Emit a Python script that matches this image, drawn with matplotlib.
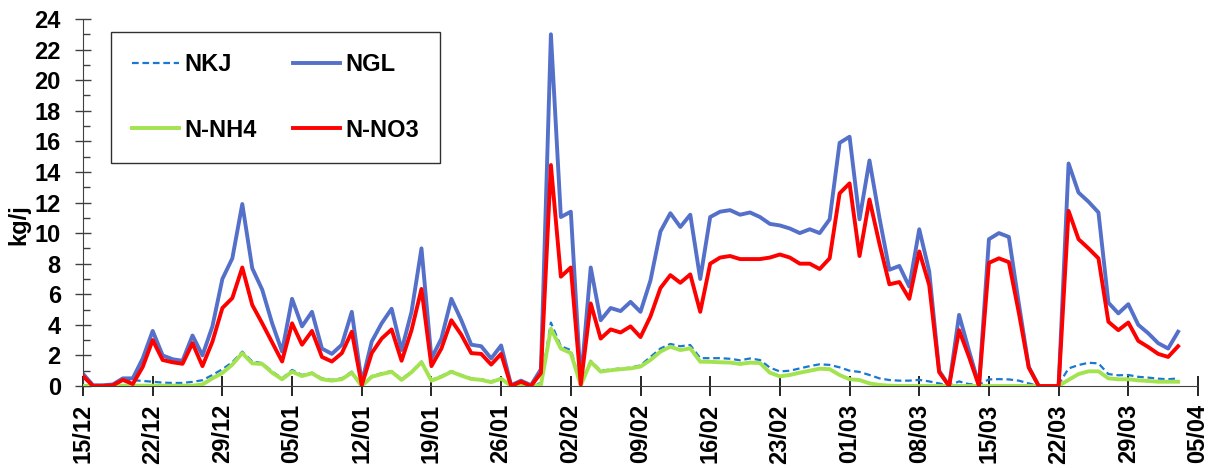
import matplotlib
matplotlib.use("Agg")
import matplotlib.pyplot as plt
from matplotlib.ticker import MultipleLocator, FixedLocator

# Daily values, 15/12 (day 0) to 03/04 (day 110)
ngl = [0.8, 0.05, 0.05, 0.1, 0.5, 0.5, 1.8, 3.6, 2.0, 1.75,
       1.65, 3.3, 2.0, 3.9, 7.0, 8.35, 11.9, 7.7, 6.3, 4.1,
       2.25, 5.7, 3.9, 4.85, 2.45, 2.1, 2.7, 4.85, 0.2, 2.9,
       4.1, 5.05, 2.35, 4.85, 9.0, 1.8, 3.1, 5.7, 4.3, 2.7,
       2.6, 1.8, 2.65, 0.05, 0.35, 0.05, 1.1, 23.0, 11.05, 11.4,
       0.2, 7.75, 4.3, 5.1, 4.9, 5.5, 4.85, 6.9, 10.1, 11.3,
       10.4, 11.2, 7.0, 11.05, 11.4, 11.5, 11.2, 11.35, 11.05, 10.6,
       10.5, 10.3, 10.0, 10.25, 10.0, 10.9, 15.9, 16.3, 10.9, 14.75,
       11.0, 7.6, 7.85, 6.5, 10.25, 7.5, 1.0, 0.0, 4.65, 2.3,
       0.05, 9.6, 10.0, 9.75, 5.4, 1.25, 0.0, 0.0, 0.0, 14.55,
       12.65, 12.05, 11.35, 5.45, 4.75, 5.35, 4.0, 3.45, 2.8, 2.45,
       3.55]

no3 = [0.65, 0.0, 0.0, 0.05, 0.4, 0.13, 1.25, 3.0, 1.7, 1.55,
       1.45, 2.8, 1.3, 2.9, 5.1, 5.75, 7.75, 5.3, 4.1, 2.85,
       1.6, 4.1, 2.7, 3.6, 1.9, 1.6, 2.15, 3.55, 0.05, 2.15,
       3.1, 3.7, 1.65, 3.65, 6.35, 1.3, 2.45, 4.3, 3.35, 2.15,
       2.1, 1.4, 2.1, 0.0, 0.28, 0.0, 0.85, 14.45, 7.15, 7.75,
       0.1, 5.4, 3.1, 3.7, 3.5, 3.9, 3.2, 4.55, 6.4, 7.25,
       6.75, 7.3, 4.85, 8.0, 8.4, 8.5, 8.3, 8.3, 8.3, 8.4,
       8.6, 8.4, 8.0, 8.0, 7.65, 8.35, 12.6, 13.25, 8.5, 12.2,
       9.3, 6.65, 6.8, 5.7, 8.8, 6.6, 0.9, 0.0, 3.65, 1.9,
       0.0, 8.05, 8.35, 8.1, 4.8, 1.2, 0.0, 0.0, 0.0, 11.45,
       9.6, 9.0, 8.35, 4.2, 3.65, 4.15, 2.95, 2.55, 2.1, 1.9,
       2.6]

nkj = [0.05, 0.0, 0.0, 0.02, 0.35, 0.38, 0.33, 0.28, 0.22, 0.2,
       0.2, 0.27, 0.38, 0.72, 1.1, 1.55, 2.25, 1.6, 1.5, 0.95,
       0.5, 1.05, 0.72, 0.87, 0.5, 0.4, 0.5, 0.94, 0.02, 0.65,
       0.83, 0.98, 0.45, 0.94, 1.6, 0.4, 0.65, 0.98, 0.72, 0.5,
       0.44, 0.3, 0.5, 0.0, 0.05, 0.0, 0.2, 4.15, 2.6, 2.35,
       0.15, 1.65, 1.0, 1.08, 1.15, 1.2, 1.35, 1.9, 2.45, 2.75,
       2.6, 2.68, 1.82, 1.82, 1.82, 1.78, 1.68, 1.8, 1.7, 1.2,
       0.95, 1.0, 1.15, 1.3, 1.42, 1.38, 1.22, 1.0, 0.92, 0.72,
       0.5, 0.39, 0.35, 0.35, 0.4, 0.3, 0.17, 0.02, 0.3, 0.12,
       0.1, 0.43, 0.45, 0.43, 0.35, 0.17, 0.0, 0.0, 0.1, 1.15,
       1.37, 1.52, 1.48, 0.78, 0.7, 0.72, 0.6, 0.55, 0.48, 0.44,
       0.5]

nh4 = [0.0, 0.0, 0.0, 0.0, 0.02, 0.02, 0.02, 0.02, 0.02, 0.02,
       0.02, 0.02, 0.1, 0.5, 0.85, 1.4, 2.15, 1.48, 1.44, 0.87,
       0.44, 0.94, 0.65, 0.83, 0.44, 0.35, 0.44, 0.87, 0.0, 0.6,
       0.78, 0.93, 0.4, 0.9, 1.55, 0.35, 0.6, 0.93, 0.68, 0.46,
       0.4, 0.25, 0.48, 0.0, 0.03, 0.0, 0.07, 3.75, 2.45, 2.15,
       0.05, 1.58, 0.94, 1.03, 1.1, 1.15, 1.27, 1.7, 2.25, 2.57,
       2.35, 2.46, 1.59, 1.58, 1.55, 1.53, 1.44, 1.53, 1.5, 0.87,
       0.63, 0.72, 0.87, 1.0, 1.13, 1.1, 0.72, 0.44, 0.39, 0.17,
       0.07, 0.02, 0.0, 0.0, 0.0, 0.0, 0.0, 0.0, 0.0, 0.0,
       0.0, 0.0, 0.0, 0.0, 0.0, 0.0, 0.0, 0.0, 0.0, 0.4,
       0.78, 0.96, 0.96, 0.5, 0.44, 0.44, 0.37, 0.33, 0.28, 0.28,
       0.28]

tick_labels = ["15/12", "22/12", "29/12", "05/01", "12/01", "19/01", "26/01",
               "02/02", "09/02", "16/02", "23/02", "01/03", "08/03", "15/03",
               "22/03", "29/03", "05/04"]

days = list(range(len(ngl)))
tick_pos = [7 * i for i in range(len(tick_labels))]

plt.rcParams['font.family'] = ['Liberation Sans', 'DejaVu Sans']
plt.rcParams['font.weight'] = 'bold'

fig = plt.figure(figsize=(12.15, 4.68), dpi=100)
ax = fig.add_axes([83 / 1215, (468 - 386) / 468, (1198 - 83) / 1215, (386 - 19) / 468])

ax.plot(days, nkj, color='#1A78D2', lw=1.6, dashes=(3, 1.7), label='NKJ', zorder=3)
ax.plot(days, ngl, color='#5470C9', lw=2.8, label='NGL', zorder=2)
ax.plot(days, nh4, color='#A3E350', lw=2.8, label='N-NH4', zorder=4)
ax.plot(days, no3, color='#FF0000', lw=2.8, label='N-NO3', zorder=5)

ax.set_xlim(0, 112)
ax.set_ylim(0, 24)
ax.xaxis.set_major_locator(FixedLocator(tick_pos))
ax.set_xticklabels(tick_labels, rotation=90, fontsize=17, fontweight='bold')
ax.yaxis.set_major_locator(MultipleLocator(2))
ax.yaxis.set_minor_locator(MultipleLocator(1))
for lab in ax.get_yticklabels():
    lab.set_fontsize(17)
    lab.set_fontweight('bold')

ax.spines['top'].set_visible(False)
ax.spines['right'].set_visible(False)
ax.spines['left'].set_color('#404040')
ax.spines['bottom'].set_color('#404040')
ax.tick_params(axis='x', which='major', direction='inout', length=14, width=1.2,
               color='black', pad=6)
ax.tick_params(axis='y', which='major', direction='inout', length=12, width=1.0,
               color='#404040', pad=10)
ax.tick_params(axis='y', which='minor', direction='in', length=5, width=1.0,
               color='#404040')

ax.set_ylabel('kg/j', fontsize=17, fontweight='bold')
ax.yaxis.set_label_coords(-0.047, 0.44)

handles, labels = ax.get_legend_handles_labels()
order = [0, 2, 1, 3]
leg = ax.legend([handles[i] for i in order], [labels[i] for i in order],
                ncol=2, loc='upper left', bbox_to_anchor=(28 / 1115, 1 - 13 / 367),
                fontsize=17, frameon=True, fancybox=False, framealpha=1,
                edgecolor='#303030', handlelength=2.0, handletextpad=0.2,
                columnspacing=1.55, labelspacing=1.8, borderpad=0.9,
                borderaxespad=0)
leg.get_frame().set_linewidth(1.0)
for t in leg.get_texts():
    t.set_fontweight('bold')

fig.savefig('out.png', dpi=100)
